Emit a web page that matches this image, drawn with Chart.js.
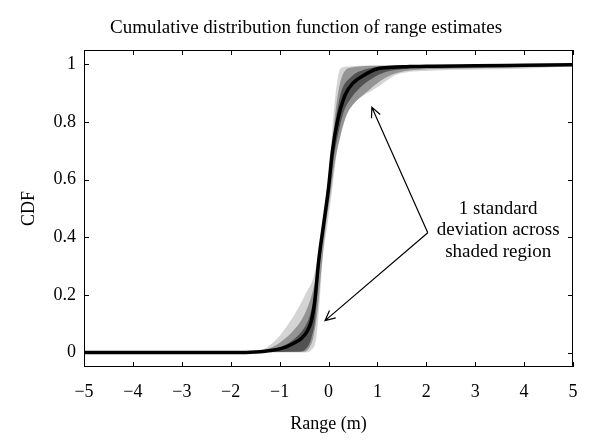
<!DOCTYPE html>
<html><head><meta charset="utf-8">
<script src="https://cdn.jsdelivr.net/npm/chart.js@4.4.0/dist/chart.umd.min.js"></script>
<style>html,body{margin:0;padding:0;background:#fff}</style>
</head><body>
<canvas id="c" width="600" height="447"></canvas>
<script>
// ---- data ----
const chartTitle = 'Cumulative distribution function of range estimates';
const xAxisTitle = 'Range (m)';
const yAxisTitle = 'CDF';
const xTickValues = [-5, -4, -3, -2, -1, 0, 1, 2, 3, 4, 5];
const yTickValues = [0, 0.2, 0.4, 0.6, 0.8, 1];

// main (mean) CDF curve
const mainX = [-5, -2, -1.6, -1.4, -1.2, -1.0, -0.85, -0.7, -0.55, -0.45, -0.35, -0.28, -0.2, -0.1, 0, 0.08, 0.18, 0.34, 0.5, 0.7, 1.0, 1.3, 1.6, 2, 3, 4, 5];
const mainY = [0, 0, 0.001, 0.003, 0.007, 0.013, 0.021, 0.033, 0.05, 0.07, 0.11, 0.18, 0.32, 0.445, 0.57, 0.70, 0.80, 0.894, 0.935, 0.96, 0.985, 0.99, 0.992, 0.994, 0.995, 0.997, 0.999];

// faint outer edge of the shaded region
const outerUpperX = [-5, -2.0, -1.6, -1.4, -1.1, -0.86, -0.6, -0.45, -0.31, -0.2, -0.12, -0.04, 0.03, 0.08, 0.14, 0.24, 0.4, 0.8, 2, 5];
const outerUpperY = [0, 0, 0.002, 0.006, 0.04, 0.09, 0.16, 0.21, 0.26, 0.35, 0.46, 0.56, 0.66, 0.78, 0.89, 0.985, 0.993, 0.996, 0.997, 1.0];
const outerLowerX = [-5, -0.5, -0.35, -0.25, -0.18, -0.12, -0.02, 0.08, 0.16, 0.26, 0.38, 0.5, 0.7, 0.9, 1.06, 1.4, 2.08, 3, 4, 4.6, 5];
const outerLowerY = [0, 0, 0.01, 0.05, 0.18, 0.32, 0.445, 0.57, 0.68, 0.76, 0.83, 0.86, 0.89, 0.91, 0.928, 0.965, 0.978, 0.982, 0.985, 0.99, 0.996];

// middle contour of the shaded region
const midUpperX = [-5, -1.9, -1.5, -1.2, -0.95, -0.7, -0.5, -0.38, -0.26, -0.15, -0.06, 0.02, 0.08, 0.16, 0.28, 0.5, 1, 5];
const midUpperY = [0, 0, 0.003, 0.015, 0.04, 0.08, 0.13, 0.18, 0.26, 0.38, 0.49, 0.61, 0.73, 0.86, 0.96, 0.99, 0.995, 1.0];
const midLowerX = [-5, -0.5, -0.38, -0.3, -0.22, -0.14, -0.06, 0.04, 0.13, 0.24, 0.35, 0.5, 0.75, 1.0, 1.3, 1.7, 2.5, 4, 5];
const midLowerY = [0, 0.003, 0.02, 0.06, 0.15, 0.3, 0.43, 0.55, 0.66, 0.75, 0.815, 0.86, 0.9, 0.935, 0.965, 0.98, 0.985, 0.99, 0.997];

// dark core of the shaded region
const innerUpperX = [-5, -1.8, -1.4, -1.1, -0.85, -0.65, -0.5, -0.38, -0.3, -0.22, -0.12, -0.03, 0.05, 0.14, 0.26, 0.45, 0.8, 1.3, 5];
const innerUpperY = [0, 0, 0.004, 0.013, 0.03, 0.055, 0.085, 0.13, 0.19, 0.30, 0.44, 0.56, 0.68, 0.80, 0.905, 0.955, 0.985, 0.993, 1.0];
const innerLowerX = [-5, -0.6, -0.45, -0.35, -0.27, -0.2, -0.1, 0, 0.1, 0.2, 0.3, 0.45, 0.65, 0.9, 1.2, 1.6, 2.2, 3, 5];
const innerLowerY = [0, 0.003, 0.015, 0.05, 0.12, 0.27, 0.42, 0.54, 0.67, 0.76, 0.83, 0.88, 0.92, 0.952, 0.975, 0.985, 0.99, 0.992, 0.998];

// annotation (data coordinates)
const noteLines = ['1 standard', 'deviation across', 'shaded region'];
const noteX = 3.47;
const noteY = [0.498, 0.425, 0.349];
const arrowVertex = [2.03, 0.416];
const arrowTips = [[0.886, 0.851], [-0.07, 0.111]];

// ---- chart ----
const FONT = "'Liberation Serif', 'DejaVu Serif', serif";
function pts(xs, ys) { return xs.map((x, i) => ({x: x, y: ys[i]})); }
function band(xs, ys, fillTarget, color) {
  return {data: pts(xs, ys), showLine: true, borderWidth: 0, borderColor: 'rgba(0,0,0,0)',
          backgroundColor: color || 'rgba(0,0,0,0)', pointRadius: 0,
          fill: fillTarget === undefined ? false : fillTarget, cubicInterpolationMode: 'monotone'};
}

const boxPlugin = {
  id: 'boxAndNotes',
  afterDatasetsDraw(chart) {
    const {ctx, chartArea: a, scales} = chart;
    const sx = scales.x, sy = scales.y;
    ctx.save();
    ctx.strokeStyle = '#000';
    ctx.lineWidth = 1;
    ctx.strokeRect(a.left + 0.5, a.top + 0.5, a.right - a.left - 1, a.bottom - a.top - 1);
    ctx.beginPath();
    xTickValues.forEach(v => {
      const px = Math.round(sx.getPixelForValue(v)) + 0.5;
      ctx.moveTo(px, a.bottom); ctx.lineTo(px, a.bottom - 5);
      ctx.moveTo(px, a.top); ctx.lineTo(px, a.top + 5);
    });
    yTickValues.forEach(v => {
      const py = Math.round(sy.getPixelForValue(v)) + 0.5;
      ctx.moveTo(a.left, py); ctx.lineTo(a.left + 5, py);
      ctx.moveTo(a.right, py); ctx.lineTo(a.right - 5, py);
    });
    ctx.stroke();

    // arrows
    const vx = sx.getPixelForValue(arrowVertex[0]);
    const vy = sy.getPixelForValue(arrowVertex[1]);
    ctx.lineWidth = 1.2;
    arrowTips.forEach(t => {
      const tx = sx.getPixelForValue(t[0]);
      const ty = sy.getPixelForValue(t[1]);
      ctx.beginPath();
      ctx.moveTo(vx, vy); ctx.lineTo(tx, ty);
      const ang = Math.atan2(vy - ty, vx - tx);
      const L = 11, spread = 0.45;
      ctx.moveTo(tx + L * Math.cos(ang + spread), ty + L * Math.sin(ang + spread));
      ctx.lineTo(tx, ty);
      ctx.lineTo(tx + L * Math.cos(ang - spread), ty + L * Math.sin(ang - spread));
      ctx.stroke();
    });

    // note text
    ctx.fillStyle = '#000';
    ctx.font = '19px ' + FONT;
    ctx.textAlign = 'center';
    ctx.textBaseline = 'middle';
    noteLines.forEach((s, i) => {
      ctx.fillText(s, sx.getPixelForValue(noteX), sy.getPixelForValue(noteY[i]));
    });
    ctx.restore();
  }
};

new Chart(document.getElementById('c'), {
  type: 'scatter',
  data: {
    datasets: [
      {label: 'CDF', data: pts(mainX, mainY), showLine: true, borderColor: '#000', borderWidth: 3.5,
       pointRadius: 0, fill: false, cubicInterpolationMode: 'monotone'},
      band(innerUpperX, innerUpperY, 2, 'rgba(0,0,0,0.45)'),
      band(innerLowerX, innerLowerY),
      band(midUpperX, midUpperY, 4, 'rgba(0,0,0,0.3)'),
      band(midLowerX, midLowerY),
      band(outerUpperX, outerUpperY, 6, 'rgba(0,0,0,0.17)'),
      band(outerLowerX, outerLowerY)
    ]
  },
  options: {
    responsive: false,
    animation: false,
    devicePixelRatio: 1,
    layout: {padding: {left: 12, right: 0, top: 0, bottom: 0}},
    plugins: {
      legend: {display: false},
      tooltip: {enabled: false},
      title: {display: true, text: chartTitle, color: '#000',
              font: {family: FONT, size: 19, weight: 'normal', lineHeight: 1.2},
              padding: {top: 16.6, bottom: 10.6}}
    },
    scales: {
      x: {
        type: 'linear', min: -5, max: 5,
        afterBuildTicks: s => { s.ticks = xTickValues.map(v => ({value: v})); },
        afterFit: s => { s.height = 80; },
        grid: {display: false, drawTicks: false},
        border: {display: false},
        ticks: {color: '#000', padding: 14, font: {family: FONT, size: 18},
                callback: v => String(v).replace('-', '\u2212')},
        title: {display: true, text: xAxisTitle, color: '#000',
                font: {family: FONT, size: 18, lineHeight: 1.2}, padding: {top: 0, bottom: 11.6}}
      },
      y: {
        type: 'linear', min: -0.05, max: 1.05,
        afterBuildTicks: s => { s.ticks = yTickValues.map(v => ({value: v})); },
        afterFit: s => { s.width = 72; },
        grid: {display: false, drawTicks: false},
        border: {display: false},
        ticks: {color: '#000', padding: 8, font: {family: FONT, size: 18},
                callback: v => String(v)},
        title: {display: true, text: yAxisTitle, color: '#000',
                font: {family: FONT, size: 18, lineHeight: 1.2}, padding: {top: 6.2, bottom: 0}}
      },
      yRight: {
        type: 'linear', position: 'right', display: true,
        afterFit: s => { s.width = 27; },
        grid: {display: false, drawTicks: false},
        border: {display: false},
        ticks: {display: false}
      }
    }
  },
  plugins: [boxPlugin]
});
</script>
</body></html>
